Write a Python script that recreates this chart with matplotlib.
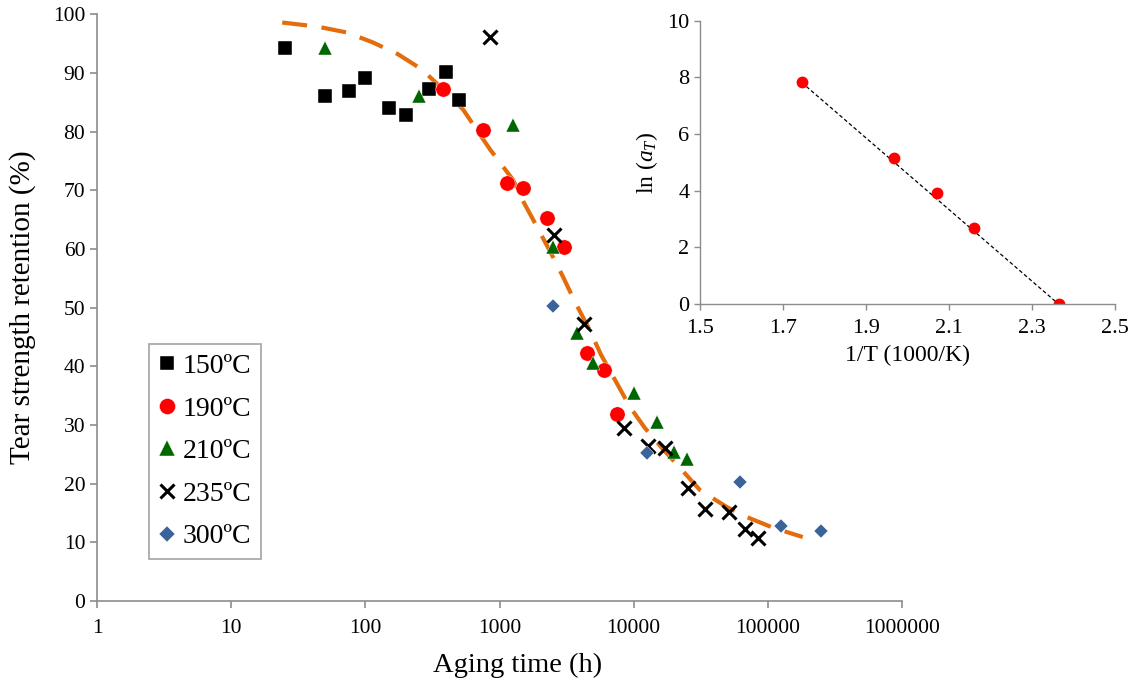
import numpy as np
import matplotlib
matplotlib.use("Agg")
import matplotlib.pyplot as plt
from matplotlib.ticker import FixedLocator, NullLocator

plt.rcParams['font.family'] = ['Liberation Serif', 'DejaVu Serif']
plt.rcParams['mathtext.fontset'] = 'custom'
plt.rcParams['mathtext.rm'] = 'Liberation Serif'
plt.rcParams['mathtext.it'] = 'Liberation Serif:italic'

# aging data, time in h, retention in %
t150 = [25, 50, 75, 100, 150, 200, 300, 400, 500]
y150 = [94.2, 86.0, 87.0, 89.2, 84.1, 82.8, 87.3, 90.1, 85.4]

t190 = [380, 750, 1130, 1500, 2250, 3000, 4500, 6000, 7500]
y190 = [87.3, 80.2, 71.3, 70.4, 65.3, 60.3, 42.3, 39.3, 31.8]

t210 = [50, 250, 1250, 2500, 3750, 5000, 10000, 15000, 20000, 25000]
y210 = [94.3, 86.0, 81.2, 60.4, 45.7, 40.6, 35.5, 30.5, 25.4, 24.2]

t235 = [850, 2550, 4250, 8500, 12750, 17000, 25500, 34000, 51000, 68000, 85000]
y235 = [96.1, 62.3, 47.2, 29.4, 26.5, 26.0, 19.2, 15.6, 15.1, 12.3, 10.8]

t300 = [2500, 12500, 62500, 125000, 250000]
y300 = [50.2, 25.3, 20.2, 12.8, 12.0]

# master curve (dashed)
fit_t = [24, 44, 73, 114, 175, 264, 379, 534, 848, 1259, 1520, 1900, 2456,
         2968, 3648, 4719, 5700, 7370, 9370, 12110, 16230, 22100, 31200,
         49500, 69800, 109000, 182000]
fit_y = [98.6, 97.9, 96.9, 95.2, 93.2, 90.6, 87.2, 83.8, 77.0, 71.8, 67.9,
         63.8, 59.0, 55.3, 51.0, 46.1, 42.0, 37.4, 33.1, 29.5, 26.1, 22.7,
         18.9, 16.0, 14.3, 12.5, 10.9]

# shift factors (inset)
inv_T = [1.745, 1.968, 2.070, 2.160, 2.364]
ln_aT = [7.82, 5.14, 3.91, 2.69, 0.0]

xticks = [1, 10, 100, 1000, 10000, 100000, 1000000]
xticklabels = ['1', '10', '100', '1000', '10000', '100000', '1000000']

grey = '#8c8c8c'

fig = plt.figure(figsize=(11.35, 6.88), dpi=100)
ax = fig.add_axes([0.0855, 0.1265, 0.7092, 0.8527])

ax.plot(fit_t, fit_y, color='#E46C0A', lw=3, ls=(0, (6, 3.5)), zorder=1)
ax.plot(t150, y150, 's', color='black', ms=9.5, mec='white', mew=0.3, label='150ºC')
ax.plot(t190, y190, 'o', color='#FF0000', ms=11, mec='white', mew=0.3, label='190ºC')
ax.plot(t210, y210, '^', color='#006600', ms=10.5, mec='white', mew=0.3, label='210ºC')
ax.plot(t235, y235, 'x', color='black', ms=9.5, mew=2.2, label='235ºC')
ax.plot(t300, y300, 'D', color='#3A6399', ms=7.5, mec='white', mew=0.3, label='300ºC')

ax.set_xscale('log')
ax.set_xlim(1, 1000000)
ax.set_ylim(0, 100)
ax.xaxis.set_major_locator(FixedLocator(xticks))
ax.xaxis.set_minor_locator(NullLocator())
ax.set_xticklabels(xticklabels)
ax.set_yticks(range(0, 101, 10))
for s in ['top', 'right']:
    ax.spines[s].set_visible(False)
for s in ['left', 'bottom']:
    ax.spines[s].set_color(grey)
    ax.spines[s].set_linewidth(1.2)
ax.tick_params(axis='both', colors=grey, labelcolor='black', labelsize=15.5,
               length=5, width=1.2, direction='out')
ax.tick_params(axis='x', pad=8)
ax.set_xlabel('Aging time (h)', fontsize=20.5)
ax.xaxis.set_label_coords(0.522, -0.088)
ax.set_ylabel('Tear strength retention (%)', fontsize=21, labelpad=12)

leg = ax.legend(loc='upper left', bbox_to_anchor=(149 / 1135, 1 - 344 / 688),
                bbox_transform=fig.transFigure, borderaxespad=0, fontsize=20,
                fancybox=False, edgecolor=grey, handlelength=0.6,
                handletextpad=0.25, labelspacing=0.615, borderpad=0.35,
                markerscale=1.05)
leg.get_frame().set_linewidth(1.2)

# inset
ax2 = fig.add_axes([0.6167, 0.558, 0.3657, 0.412])
ax2.plot([inv_T[0], inv_T[-1]], [ln_aT[0], ln_aT[-1]], ls=(0, (3, 2)),
         color='black', lw=0.9, zorder=1)
ax2.plot(inv_T, ln_aT, 'o', color='#FF0000', ms=7.5, zorder=2)
ax2.set_xlim(1.5, 2.5)
ax2.set_ylim(0, 10)
ax2.set_xticks([1.5, 1.7, 1.9, 2.1, 2.3, 2.5])
ax2.set_yticks(range(0, 11, 2))
for s in ['top', 'right']:
    ax2.spines[s].set_visible(False)
for s in ['left', 'bottom']:
    ax2.spines[s].set_color(grey)
    ax2.spines[s].set_linewidth(1.0)
ax2.tick_params(axis='both', colors=grey, labelcolor='black', labelsize=16,
                length=4, width=1.0, direction='out')
ax2.tick_params(axis='x', pad=7)
ax2.set_xlabel('1/T (1000/K)', fontsize=17, labelpad=5)
ax2.set_ylabel(r'ln ($a_T$)', fontsize=17, labelpad=5)

fig.savefig('out.png', dpi=100)
